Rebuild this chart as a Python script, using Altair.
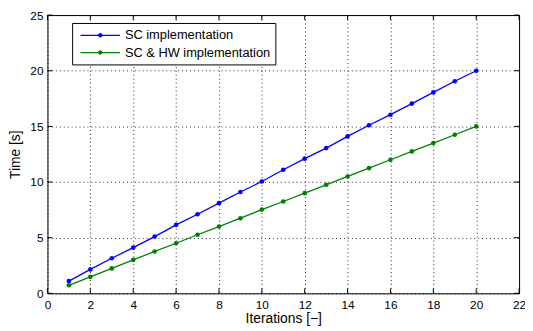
import altair as alt
import pandas as pd

iterations = [1, 2, 3, 4, 5, 6, 7, 8, 9, 10, 11, 12, 13, 14, 15, 16, 17, 18, 19, 20]
sc_times = [1.1, 2.15, 3.15, 4.1, 5.1, 6.15, 7.1, 8.1, 9.1, 10.05,
            11.1, 12.1, 13.05, 14.1, 15.1, 16.05, 17.05, 18.05, 19.05, 20.0]
hw_times = [0.72, 1.48, 2.24, 3.0, 3.76, 4.5, 5.26, 6.0, 6.75, 7.52,
            8.25, 9.0, 9.75, 10.5, 11.25, 12.0, 12.75, 13.5, 14.25, 15.0]
series_names = ["SC implementation", "SC & HW implementation"]
series_colors = ["#0000ff", "#008000"]
x_ticks = [0, 2, 4, 6, 8, 10, 12, 14, 16, 18, 20, 22]
y_ticks = [0, 5, 10, 15, 20, 25]

W, H = 478, 282
FONT = "Liberation Sans"

df = pd.DataFrame({
    "it": iterations * 2,
    "time": sc_times + hw_times,
    "series": [series_names[0]] * len(iterations) + [series_names[1]] * len(iterations),
})
xt_df = pd.DataFrame({"it": x_ticks})
yt_df = pd.DataFrame({"time": y_ticks})

xs = alt.Scale(domain=[0, 22], nice=False, zero=False)
ys = alt.Scale(domain=[0, 25], nice=False, zero=False)
xaxis = alt.Axis(values=x_ticks, title="Iterations [−]", grid=True, ticks=False,
                 domain=False, labelPadding=6, titlePadding=2, labelFlush=False)
yaxis = alt.Axis(values=y_ticks, title="Time [s]", grid=True, ticks=False,
                 domain=False, labelPadding=4.5, titlePadding=7, labelFlush=False)

X = alt.X("it:Q", scale=xs, axis=xaxis)
Y = alt.Y("time:Q", scale=ys, axis=yaxis)

# legend glyph: a line segment with a dot in its middle (normalised symbol units, 1 unit = 8px)
symbol_path = ("M-0.5,-0.075L4.5,-0.075L4.5,0.075L-0.5,0.075Z "
               "M2.28,0A0.28,0.28,0,1,1,1.72,0A0.28,0.28,0,1,1,2.28,0Z")

legend = alt.Legend(title=None, orient="none", legendX=25, legendY=8,
                    direction="vertical", symbolType=symbol_path,
                    symbolSize=256, symbolStrokeWidth=0, symbolOpacity=1,
                    labelFont=FONT, labelFontSize=13, labelColor="black",
                    strokeColor="black", fillColor="white",
                    padding=4.5, rowPadding=2.5, labelOffset=33)
C = alt.Color("series:N", scale=alt.Scale(domain=series_names, range=series_colors),
              legend=legend)

lines = alt.Chart(df).mark_line(strokeWidth=1.3).encode(x=X, y=Y, color=C)
points = alt.Chart(df).mark_point(filled=True, size=22, opacity=1).encode(x=X, y=Y, color=C)

bottom_ticks = alt.Chart(xt_df).mark_rule(color="black", strokeWidth=1).encode(
    x=X, y=alt.value(H), y2=alt.value(H - 5))
top_ticks = alt.Chart(xt_df).mark_rule(color="black", strokeWidth=1).encode(
    x=X, y=alt.value(0), y2=alt.value(5))
left_ticks = alt.Chart(yt_df).mark_rule(color="black", strokeWidth=1).encode(
    y=Y, x=alt.value(0), x2=alt.value(5))
right_ticks = alt.Chart(yt_df).mark_rule(color="black", strokeWidth=1).encode(
    y=Y, x=alt.value(W), x2=alt.value(W - 5))

chart = alt.layer(bottom_ticks, top_ticks, left_ticks, right_ticks, lines, points).properties(
    width=W, height=H,
    autosize=alt.AutoSizeParams(type="none"),
    padding={"left": 40, "top": 5, "right": 6, "bottom": 35},
).configure_axis(
    labelFont=FONT, titleFont=FONT, labelFontSize=12, titleFontSize=14,
    labelColor="black", titleColor="black", titleFontWeight="normal",
    gridColor="black", gridDash=[1, 3], gridOpacity=0.85, gridWidth=1,
).configure_view(stroke="black", strokeWidth=1)

chart.save("out.html", embed_options={"renderer": "svg", "actions": False})
